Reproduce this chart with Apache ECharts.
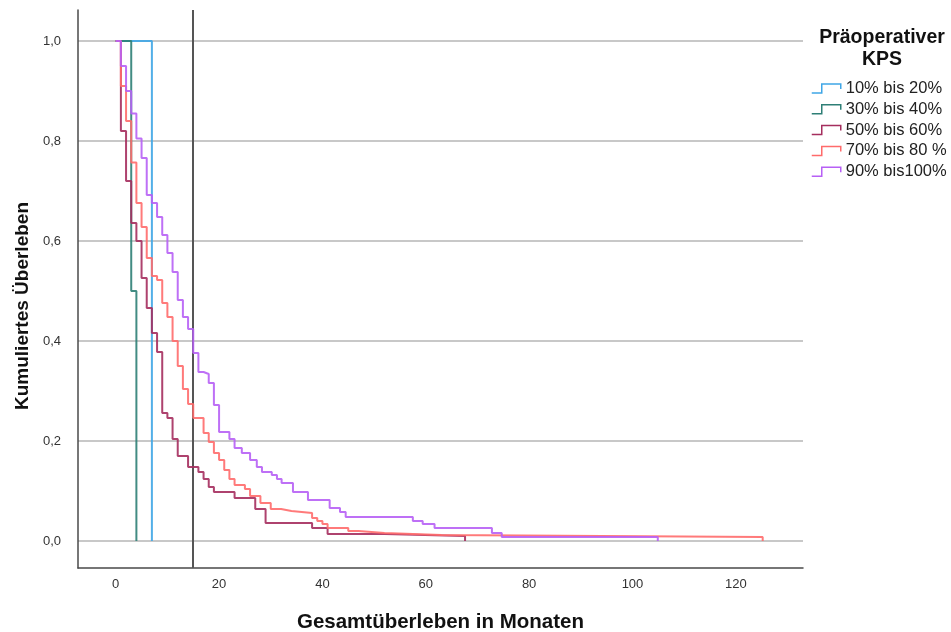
<!DOCTYPE html>
<html>
<head>
<meta charset="utf-8">
<script src="https://cdn.jsdelivr.net/npm/echarts@6/dist/echarts.min.js"></script>
<style>
  html, body { margin: 0; padding: 0; background: #ffffff; }
  #chart { width: 951px; height: 632px; }
</style>
</head>
<body>
<div id="chart"></div>
<script>
// Kaplan-Meier curves: [month, cumulative survival after the step]
const groupNames = ['10% bis 20%', '30% bis 40%', '50% bis 60%', '70% bis 80 %', '90% bis100%'];
const groupColors = ['#3FA6E6', '#2E7F76', '#A52E5E', '#FF6B6B', '#B760F5'];

const kps1020 = [[0, 1], [7, 0]];
const kps3040 = [[0, 1], [3, 0.5], [4, 0]];
const kps5060 = [
  [0, 1], [1, 0.82], [2, 0.72], [3, 0.636], [4, 0.60], [5, 0.526], [6, 0.466], [7, 0.416],
  [8, 0.378], [9, 0.256], [10, 0.246], [11, 0.204], [12, 0.17], [14, 0.148], [16, 0.138],
  [17, 0.124], [18, 0.108], [19, 0.098], [23, 0.086], [27, 0.064], [29, 0.036], [38, 0.026],
  [41, 0.014], [52, 0.01], [67.6, 0]
];
const kps7080 = [
  [0, 1], [1, 0.91], [2, 0.84], [3, 0.757], [4, 0.676], [5, 0.628], [6, 0.566], [7, 0.53],
  [8, 0.522], [9, 0.476], [10, 0.448], [11, 0.40], [12, 0.35], [13, 0.304], [14, 0.274],
  [15, 0.246], [17, 0.216], [18, 0.198], [19, 0.176], [20, 0.162], [21, 0.142], [22, 0.124],
  [23, 0.112], [25, 0.104], [26, 0.09], [28, 0.076], [30, 0.064], [32, 0.06], [34, 0.056],
  [38, 0.046], [39, 0.04], [40, 0.034], [41, 0.026], [45, 0.02], [47, 0.016], [52, 0.012],
  [63, 0.008], [125.2, 0]
];
const kps90100 = [
  [0, 1], [1, 0.95], [2, 0.90], [3, 0.855], [4, 0.805], [5, 0.766], [6, 0.692], [7, 0.676],
  [8, 0.648], [9, 0.612], [10, 0.576], [11, 0.538], [12, 0.482], [13, 0.448], [14, 0.424],
  [15, 0.376], [16, 0.338], [17, 0.334], [18, 0.316], [19, 0.272], [20, 0.218], [22, 0.204],
  [23, 0.186], [24.4, 0.176], [26, 0.162], [27.3, 0.148], [28.3, 0.138], [30.2, 0.132],
  [31.2, 0.124], [32.1, 0.116], [34.3, 0.098], [37.2, 0.082], [41.4, 0.066], [43.4, 0.058],
  [44.5, 0.048], [57.5, 0.04], [59.4, 0.034], [61.7, 0.026], [72.8, 0.016], [74.7, 0.008],
  [104.9, 0]
];
const groupData = [kps1020, kps3040, kps5060, kps7080, kps90100];

const xTickValues = [0, 20, 40, 60, 80, 100, 120];
const yTickValues = [0, 0.2, 0.4, 0.6, 0.8, 1.0];
const referenceMonth = 15;

const chart = echarts.init(document.getElementById('chart'), null, { renderer: 'canvas' });

const series = groupNames.map((name, i) => ({
  name: name,
  type: 'line',
  step: 'end',
  data: groupData[i],
  showSymbol: false,
  symbol: 'none',
  animation: false,
  color: groupColors[i],
  lineStyle: { color: groupColors[i], width: 2, opacity: 0.9 },
  emphasis: { disabled: true },
  z: 3 + i
}));

// vertical reference line at month 15
series.push({
  name: 'ref',
  type: 'line',
  data: [],
  silent: true,
  animation: false,
  markLine: {
    silent: true,
    symbol: 'none',
    label: { show: false },
    animation: false,
    lineStyle: { color: '#555555', width: 2, type: 'solid' },
    data: [{ xAxis: referenceMonth }]
  },
  z: 2
});

const fontFamily = '"Liberation Sans", Arial, sans-serif';

// step-shaped legend key, stroked in each group's colour
const legendItems = groupNames.map((name, i) => ({
  name: name,
  icon: 'path://M0,9L10,9L10,0L29,0L29,5',
  itemStyle: { color: 'rgba(0,0,0,0)', borderColor: groupColors[i], borderWidth: 1.5, opacity: 1 }
}));

chart.setOption({
  backgroundColor: '#ffffff',
  animation: false,
  textStyle: { fontFamily: fontFamily },
  title: {
    text: 'Präoperativer\nKPS',
    left: 877,
    top: 22,
    textAlign: 'center',
    textStyle: { fontFamily: fontFamily, fontSize: 19.5, fontWeight: 'bold', lineHeight: 22, color: '#111111' }
  },
  legend: {
    data: legendItems,
    orient: 'vertical',
    left: 806,
    top: 75,
    itemWidth: 29,
    itemHeight: 9,
    itemGap: 3.8,
    textStyle: { fontFamily: fontFamily, fontSize: 16.5, color: '#222222' },
    selectedMode: false
  },
  grid: { left: 78, right: 148, top: 10, bottom: 64, containLabel: false, outerBoundsMode: 'none' },
  xAxis: {
    type: 'value',
    min: -7.3,
    max: 133,
    name: 'Gesamtüberleben in Monaten',
    nameLocation: 'middle',
    nameGap: 44,
    nameTextStyle: { fontFamily: fontFamily, fontSize: 20.5, fontWeight: 'bold', color: '#111111' },
    axisLine: { show: true, onZero: false, lineStyle: { color: '#4a4a4a', width: 1.5 } },
    axisTick: { show: false, customValues: xTickValues },
    axisLabel: { customValues: xTickValues, color: '#333333', fontSize: 13, margin: 10, formatter: v => String(v) },
    splitLine: { show: false }
  },
  yAxis: {
    type: 'value',
    min: -0.054,
    max: 1.062,
    name: 'Kumuliertes Überleben',
    nameLocation: 'middle',
    nameGap: 46,
    nameTextStyle: {
      fontFamily: fontFamily, fontSize: 19, fontWeight: 'bold', color: '#111111',
      padding: [0, 34, 0, 0]
    },
    axisLine: { show: true, onZero: false, lineStyle: { color: '#4a4a4a', width: 1.5 } },
    axisTick: { show: false, customValues: yTickValues },
    axisLabel: {
      customValues: yTickValues, color: '#333333', fontSize: 13, margin: 17,
      formatter: v => v.toFixed(1).replace('.', ',')
    },
    splitLine: { show: true, lineStyle: { color: '#c8c8c8', width: 2 } }
  },
  series: series
});
</script>
</body>
</html>
